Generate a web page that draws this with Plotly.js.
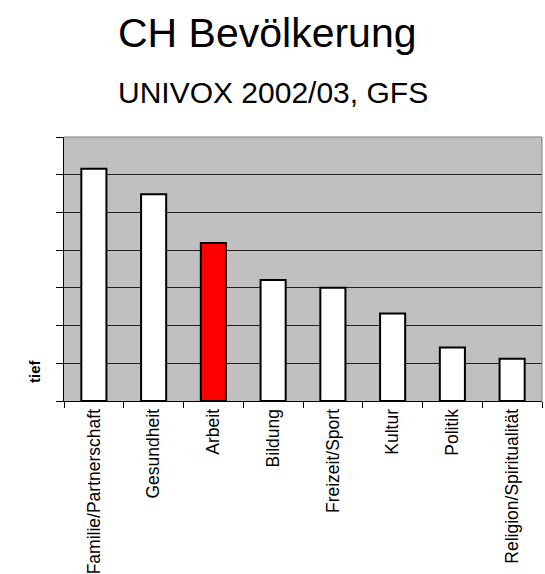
<!DOCTYPE html>
<html>
<head>
<meta charset="utf-8">
<script src="https://cdn.plot.ly/plotly-3.0.1.min.js"></script>
<style>
html,body{margin:0;padding:0;background:#fff;}
#chart{width:545px;height:574px;}
</style>
</head>
<body>
<div id="chart"></div>
<script>
const categories = ["Familie/Partnerschaft","Gesundheit","Arbeit","Bildung","Freizeit/Sport","Kultur","Politik","Religion/Spiritualität"];
const values = [6.16, 5.48, 4.19, 3.21, 3.0, 2.32, 1.42, 1.12];
const barColors = ["#ffffff","#ffffff","#ff0000","#ffffff","#ffffff","#ffffff","#ffffff","#ffffff"];
const titleText = "CH Bevölkerung";
const subtitleText = "UNIVOX 2002/03, GFS";
const yAxisLabel = "tief";

const FONT = "Liberation Sans, Arial, sans-serif";

const trace = {
  type: "bar",
  x: categories,
  y: values,
  width: 0.42,
  marker: {color: barColors, line: {color: "#000000", width: 2}},
  hoverinfo: "skip"
};

const layout = {
  width: 545,
  height: 574,
  margin: {l: 64, r: 3, t: 137, b: 173, pad: 0},
  paper_bgcolor: "#ffffff",
  plot_bgcolor: "#c0c0c0",
  showlegend: false,
  bargap: 0.58,
  xaxis: {
    type: "category",
    showline: true, linecolor: "#000000", linewidth: 1,
    ticks: "outside", ticklen: 6, tickcolor: "#000000", tickwidth: 1,
    tickson: "boundaries",
    tickangle: -90,
    tickfont: {family: FONT, size: 17.5, color: "#000000"},
    showgrid: false,
    zeroline: false,
    fixedrange: true
  },
  yaxis: {
    range: [0, 7], dtick: 1, tick0: 0,
    showline: true, linecolor: "#000000", linewidth: 1,
    ticks: "outside", ticklen: 7, tickcolor: "#000000", tickwidth: 1,
    showticklabels: false,
    showgrid: true, gridcolor: "#222222", gridwidth: 1,
    zeroline: false,
    mirror: false,
    fixedrange: true
  },
  shapes: [
    {type: "line", xref: "paper", yref: "paper", x0: 0, x1: 1, y0: 1, y1: 1, line: {color: "#808080", width: 1}},
    {type: "line", xref: "paper", yref: "paper", x0: 1, x1: 1, y0: 0, y1: 1, line: {color: "#808080", width: 1}}
  ],
  annotations: [
    {text: titleText, xref: "paper", yref: "paper", x: (116 - 64) / 478, y: (401 - 33) / 264,
     xanchor: "left", yanchor: "middle", showarrow: false,
     font: {family: FONT, size: 41, color: "#000000"}},
    {text: subtitleText, xref: "paper", yref: "paper", x: (116 - 64) / 478, y: (401 - 92) / 264,
     xanchor: "left", yanchor: "middle", showarrow: false,
     font: {family: FONT, size: 30, color: "#000000"}},
    {text: "<b>" + yAxisLabel + "</b>", xref: "paper", yref: "paper", x: (34 - 64) / 478, y: (401 - 371) / 264,
     xanchor: "center", yanchor: "middle", textangle: -90, showarrow: false,
     font: {family: FONT, size: 15, color: "#000000"}}
  ]
};

Plotly.newPlot("chart", [trace], layout, {displayModeBar: false, staticPlot: true});
</script>
</body>
</html>
